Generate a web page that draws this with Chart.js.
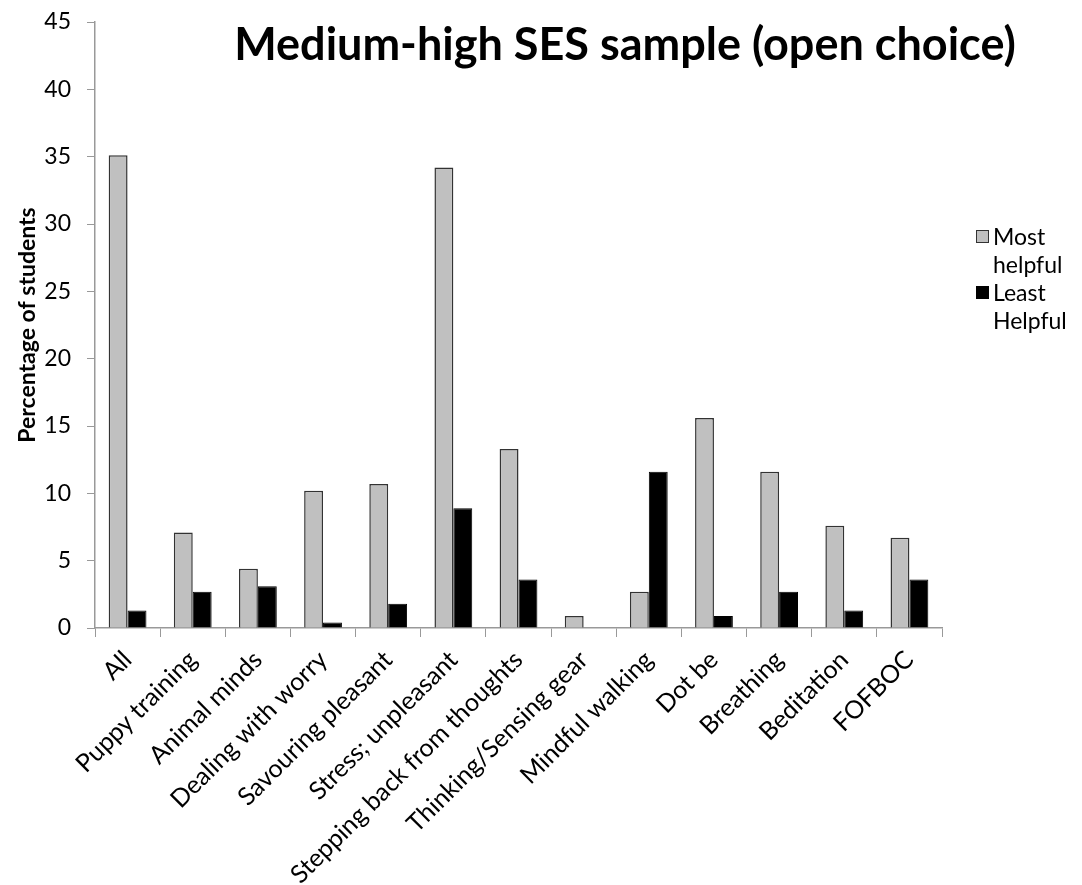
<!DOCTYPE html>
<html>
<head>
<meta charset="utf-8">
<script src="https://cdn.jsdelivr.net/npm/chart.js@4"></script>
<style>
  body { margin: 0; background: #fff; }
  #wrap { position: relative; width: 1082px; height: 885px; }
  #legend { position: absolute; left: 976px; top: 222px; font-family: Lato, "Open Sans", sans-serif; font-size: 23px; color: #000; line-height: 28px; }
  .item { position: relative; padding-left: 17px; width: 90px; }
  .box { position: absolute; left: 0; top: 8px; width: 13px; height: 13px; box-sizing: border-box; }
</style>
</head>
<body>
<div id="wrap">
  <canvas id="chart" width="1082" height="885"></canvas>
  <div id="legend"></div>
</div>
<script>
// Categories along the x axis
const categories = ["All", "Puppy training", "Animal minds", "Dealing with worry", "Savouring pleasant",
    "Stress; unpleasant", "Stepping back from thoughts", "Thinking/Sensing gear", "Mindful walking",
    "Dot be", "Breathing", "Beditation", "FOFBOC"];

// Percentage of students per category
const mostHelpful = [35.1, 7.1, 4.4, 10.2, 10.7, 34.2, 13.3, 0.9, 2.7, 15.6, 11.6, 7.6, 6.7];
const leastHelpful = [1.3, 2.7, 3.1, 0.4, 1.8, 8.9, 3.6, 0, 11.6, 0.9, 2.7, 1.3, 3.6];

const seriesNames = ["Most helpful", "Least Helpful"];
const yTicks = [0, 5, 10, 15, 20, 25, 30, 35, 40, 45];

const font = 'Lato, "Open Sans", sans-serif';

// To draw the title on top of the plot area
const titlePlugin = {
    id: 'overTitle',
    afterDraw(chart) {
        const ctx = chart.ctx;
        ctx.save();
        ctx.font = 'bold 45px ' + font;
        ctx.fillStyle = '#000';
        ctx.textAlign = 'center';
        ctx.textBaseline = 'middle';
        ctx.fillText('Medium-high SES sample (open choice)', 625, 45);
        ctx.restore();
    }
};

const ctx = document.getElementById('chart').getContext('2d');
const chart = new Chart(ctx, {
    type: 'bar',
    data: {
        labels: categories,
        datasets: [{
            label: seriesNames[0],
            data: mostHelpful,
            backgroundColor: '#c0c0c0',
            borderColor: '#333333',
            borderWidth: 1.5
        }, {
            label: seriesNames[1],
            data: leastHelpful,
            backgroundColor: '#000000',
            borderColor: '#000000',
            borderWidth: 1
        }]
    },
    options: {
        responsive: false,
        animation: false,
        layout: { padding: { top: 22, right: 140, left: 0, bottom: 0 } },
        datasets: { bar: { barPercentage: 1, categoryPercentage: 0.58 } },
        plugins: {
            legend: { display: false },
            tooltip: { enabled: false }
        },
        scales: {
            x: {
                afterFit(scale) { scale.height = 257; scale.paddingLeft = 0; scale.paddingRight = 0; },
                grid: { display: true, drawOnChartArea: false, offset: true, tickLength: 9, color: '#999', lineWidth: 1 },
                border: { color: '#999', width: 1.5 },
                ticks: { color: '#000', font: { family: font, size: 25 }, minRotation: 45, maxRotation: 45, autoSkip: false, padding: 8 }
            },
            y: {
                min: 0,
                max: 45,
                afterFit(scale) { scale.width = 95; scale.paddingTop = 0; scale.paddingBottom = 0; },
                afterBuildTicks(axis) { axis.ticks = yTicks.map(v => ({ value: v })); },
                grid: { display: true, drawOnChartArea: false, tickLength: 8, color: '#999', lineWidth: 1 },
                border: { color: '#999', width: 1.5 },
                ticks: { color: '#000', font: { family: font, size: 23 }, padding: 16 },
                title: { display: true, text: 'Percentage of students', color: '#000', font: { family: font, size: 23, weight: 'bold' }, padding: { top: 14, bottom: 0 } }
            }
        }
    },
    plugins: [titlePlugin]
});

// To build the legend beside the chart
const legend = document.getElementById('legend');
chart.data.datasets.forEach(ds => {
    const item = document.createElement('div');
    item.className = 'item';
    item.innerHTML = '<span class="box" style="background:' + ds.backgroundColor + ';border:1px solid ' + ds.borderColor + '"></span>' + ds.label;
    legend.appendChild(item);
});
</script>
</body>
</html>
